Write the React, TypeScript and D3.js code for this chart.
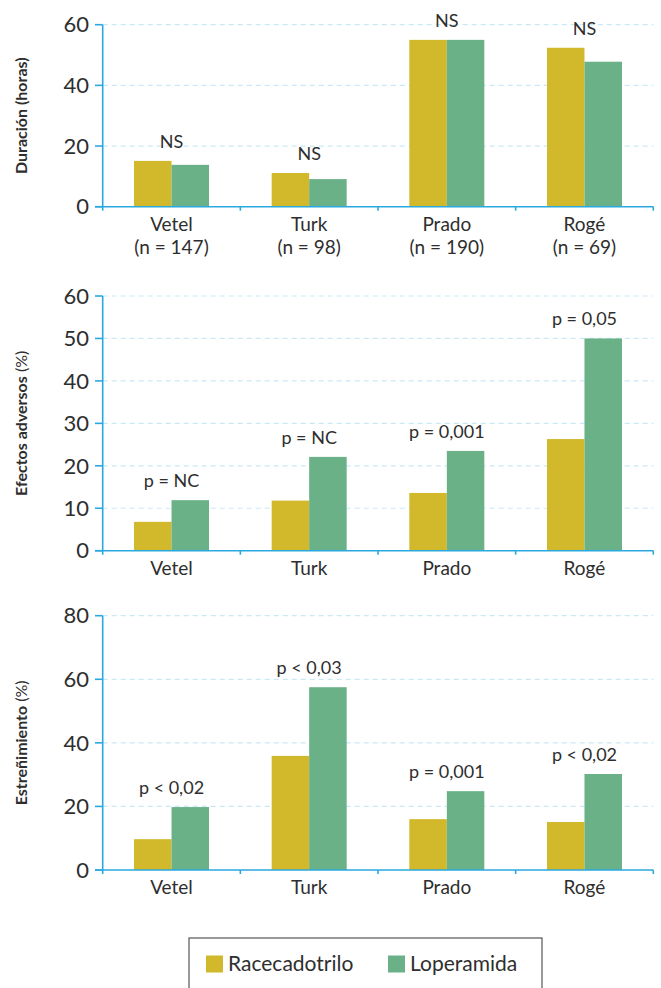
import React from "react";
import * as d3 from "d3";

const categories = ["Vetel", "Turk", "Prado", "Rogé"];
const sampleSizes = ["(n = 147)", "(n = 98)", "(n = 190)", "(n = 69)"];
const seriesNames = ["Racecadotrilo", "Loperamida"];

const durRacecadotrilo = [15.1, 11.1, 55, 52.4];
const durLoperamida = [13.8, 9.1, 55, 47.8];
const durLabels = ["NS", "NS", "NS", "NS"];
const durTicks = [0, 20, 40, 60];

const advRacecadotrilo = [6.8, 11.8, 13.6, 26.3];
const advLoperamida = [11.9, 22.1, 23.5, 50];
const advLabels = ["p = NC", "p = NC", "p = 0,001", "p = 0,05"];
const advTicks = [0, 10, 20, 30, 40, 50, 60];

const estRacecadotrilo = [9.7, 35.9, 16, 15.1];
const estLoperamida = [19.8, 57.5, 24.8, 30.2];
const estLabels = ["p < 0,02", "p < 0,03", "p = 0,001", "p < 0,02"];
const estTicks = [0, 20, 40, 60, 80];

const COLORS = ["#d2b92b", "#6ab187"];
const AXIS = "#2aa9e0";
const GRID = "#c9e9f6";
const TEXT = "#2e2e2e";
const FONT = "Lato, 'Open Sans', sans-serif";
const W = 400;

const X0 = 102.7;
const X1 = 653.3;

type PanelProps = {
  top: number;
  bottom: number;
  max: number;
  ticks: number[];
  a: number[];
  b: number[];
  labels: string[];
  title: string;
  titleSuffix: string;
  showN: boolean;
};

function Panel({ top, bottom, max, ticks, a, b, labels, title, titleSuffix, showN }: PanelProps) {
  const x = d3.scaleBand<string>().domain(categories).range([X0, X1]).paddingInner(0).paddingOuter(0);
  const y = d3.scaleLinear().domain([0, max]).range([bottom, top]);
  const bw = 37.5;
  const cy = (top + bottom) / 2;
  return (
    <g>
      {ticks.filter((t) => t !== 0).map((t) => (
        <line key={"g" + t} x1={X0} x2={X1} y1={y(t)} y2={y(t)} stroke={GRID} strokeWidth={1.2} strokeDasharray="5,4" />
      ))}
      {categories.map((c, i) => {
        const cx = (x(c) as number) + x.bandwidth() / 2;
        const vals = [a[i], b[i]];
        const topV = Math.max(a[i], b[i]);
        return (
          <g key={c}>
            {vals.map((v, j) => (
              <rect key={j} x={cx - bw + j * bw} y={y(v)} width={bw} height={bottom - y(v)} fill={COLORS[j]} />
            ))}
            <text x={cx} y={y(topV) - 13} textAnchor="middle" fontSize={18} fontWeight={W} fill={TEXT}>{labels[i]}</text>
            <text x={cx} y={bottom + 24} textAnchor="middle" fontSize={19} fontWeight={W} fill={TEXT}>{c}</text>
            {showN && (
              <text x={cx} y={bottom + 47} textAnchor="middle" fontSize={19} fontWeight={W} fill={TEXT}>{sampleSizes[i]}</text>
            )}
          </g>
        );
      })}
      <line x1={95} x2={X1} y1={bottom} y2={bottom} stroke={AXIS} strokeWidth={1.6} />
      <line x1={X0} x2={X0} y1={top} y2={bottom + 4} stroke={AXIS} strokeWidth={1.6} />
      {categories.map((c, i) => (
        <line key={"t" + i} x1={(x(c) as number) + x.bandwidth()} x2={(x(c) as number) + x.bandwidth()} y1={bottom} y2={bottom + 4} stroke={AXIS} strokeWidth={1.6} />
      ))}
      {ticks.map((t) => (
        <g key={"yt" + t}>
          <line x1={95} x2={X0} y1={y(t)} y2={y(t)} stroke={AXIS} strokeWidth={1.6} />
          <text x={89} y={y(t)} dy="0.35em" textAnchor="end" fontSize={22} fontWeight={W} fill={TEXT}>{t}</text>
        </g>
      ))}
      <text transform={`translate(27,${cy}) rotate(-90)`} textAnchor="middle" fontSize={16} fill={TEXT} fontWeight="bold">
        {title}
        <tspan fontWeight={titleSuffix === " (%)" ? "normal" : "bold"}>{titleSuffix}</tspan>
      </text>
    </g>
  );
}

export default function App() {
  return (
    <svg width={661} height={988} style={{ position: "absolute", left: 0, top: 0, fontFamily: FONT }}>
      <rect width={661} height={988} fill="#fff" />
      <Panel top={24.7} bottom={206.7} max={60} ticks={durTicks} a={durRacecadotrilo} b={durLoperamida} labels={durLabels} title="Duración" titleSuffix=" (horas)" showN={true} />
      <Panel top={296} bottom={550.7} max={60} ticks={advTicks} a={advRacecadotrilo} b={advLoperamida} labels={advLabels} title="Efectos adversos" titleSuffix=" (%)" showN={false} />
      <Panel top={615.7} bottom={870} max={80} ticks={estTicks} a={estRacecadotrilo} b={estLoperamida} labels={estLabels} title="Estreñimiento" titleSuffix=" (%)" showN={false} />
      <g>
        <rect x={189} y={938} width={353} height={60} fill="none" stroke="#555" strokeWidth={1.2} />
        {seriesNames.map((s, i) => (
          <g key={s} transform={`translate(${i === 0 ? 206 : 388},0)`}>
            <rect x={0} y={955.5} width={17} height={17} fill={COLORS[i]} />
            <text x={22} y={964} dy="0.35em" fontSize={21} fontWeight={W} fill={TEXT}>{s}</text>
          </g>
        ))}
      </g>
    </svg>
  );
}
